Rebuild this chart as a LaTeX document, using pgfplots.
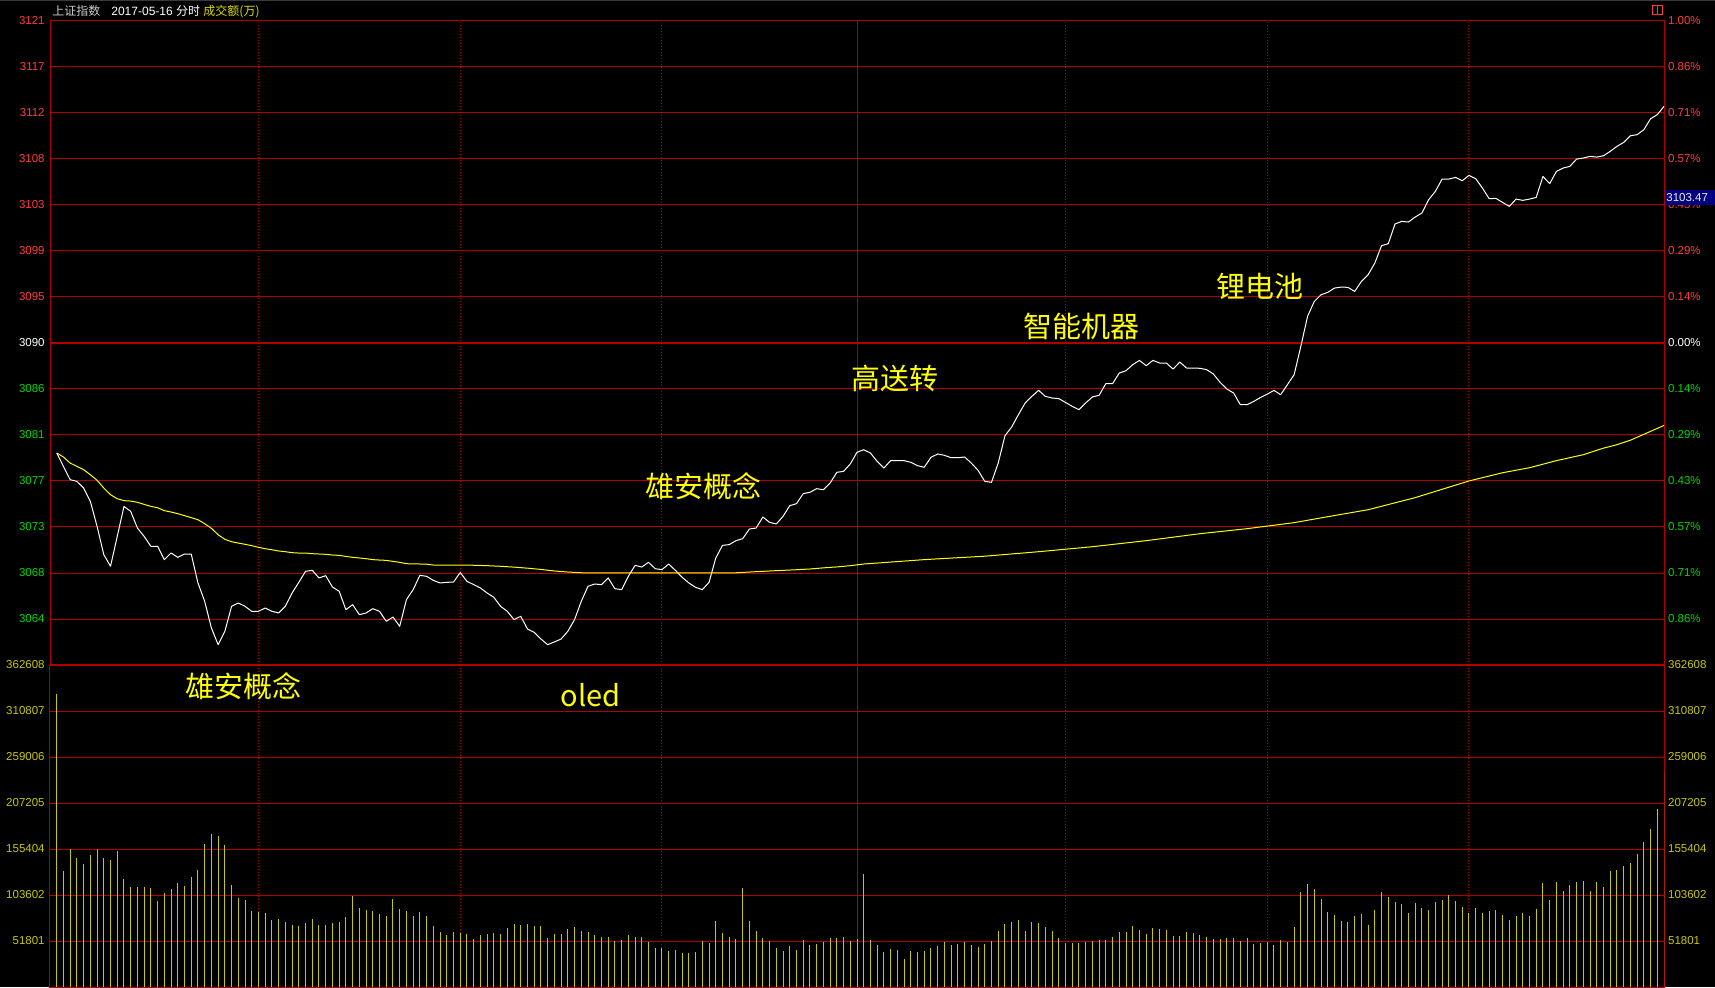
\documentclass[border=0pt]{standalone}
\usepackage{pgfplots}
\pgfplotsset{compat=1.18}
\usepackage{pgfplotstable}
\usepackage{fontspec}
\setmainfont{Liberation Sans}
\newfontfamily\cjk{Noto Sans CJK SC}
\definecolor{gridred}{RGB}{176,0,0}
\definecolor{upred}{RGB}{255,60,60}
\definecolor{dngreen}{RGB}{0,215,0}
\definecolor{volyel}{RGB}{200,200,0}
\definecolor{annyel}{RGB}{255,255,0}
\definecolor{boxblue}{RGB}{0,0,128}

\pgfplotstableread{
k p
1 3079.67
2 3078.39
3 3077.11
4 3076.95
5 3076.31
6 3075.03
7 3072.63
8 3069.92
9 3068.80
10 3071.67
11 3074.55
12 3074.07
13 3072.47
14 3071.67
15 3070.72
16 3070.72
17 3069.44
18 3070.08
19 3069.66
20 3069.98
21 3069.98
22 3067.20
23 3065.44
24 3062.88
25 3061.28
26 3062.56
27 3064.96
28 3065.28
29 3064.96
30 3064.48
31 3064.48
32 3064.80
33 3064.48
34 3064.32
35 3064.96
36 3066.24
37 3067.26
38 3068.32
39 3068.41
40 3067.68
41 3067.90
42 3066.81
43 3066.40
44 3064.64
45 3065.12
46 3064.16
47 3064.32
48 3064.73
49 3064.48
50 3063.52
51 3063.93
52 3063.04
53 3065.60
54 3066.56
55 3067.93
56 3067.84
57 3067.45
58 3067.20
59 3067.26
60 3067.29
61 3068.20
62 3067.36
63 3067.04
64 3066.72
65 3066.24
66 3065.82
67 3064.96
68 3064.48
69 3063.68
70 3064.00
71 3062.78
72 3062.46
73 3061.82
74 3061.28
75 3061.54
76 3061.82
77 3062.56
78 3063.68
79 3065.44
80 3066.88
81 3067.10
82 3067.04
83 3067.68
84 3066.65
85 3066.56
86 3067.84
87 3068.89
88 3068.73
89 3069.18
90 3068.57
91 3068.48
92 3069.02
93 3068.41
94 3067.74
95 3067.20
96 3066.78
97 3066.56
98 3067.26
99 3069.60
100 3070.81
101 3070.88
102 3071.26
103 3071.45
104 3072.38
105 3072.47
106 3073.53
107 3073.02
108 3072.86
109 3073.59
110 3074.62
111 3074.81
112 3075.77
113 3075.90
114 3076.25
115 3076.15
116 3076.79
117 3077.82
118 3077.91
119 3078.62
120 3079.74
121 3079.99
122 3079.67
123 3078.87
124 3078.23
125 3078.94
126 3078.94
127 3078.94
128 3078.78
129 3078.46
130 3078.30
131 3079.26
132 3079.58
133 3079.45
134 3079.22
135 3079.22
136 3079.29
137 3078.71
138 3078.01
139 3076.95
140 3076.86
141 3078.71
142 3081.33
143 3082.17
144 3083.35
145 3084.47
146 3085.11
147 3085.69
148 3085.11
149 3084.95
150 3084.89
151 3084.53
152 3084.15
153 3083.83
154 3084.47
155 3085.05
156 3085.21
157 3086.33
158 3086.33
159 3087.35
160 3087.57
161 3088.15
162 3088.56
163 3088.05
164 3088.56
165 3088.31
166 3088.31
167 3087.73
168 3088.40
169 3087.83
170 3087.83
171 3087.80
172 3087.67
173 3087.25
174 3086.45
175 3085.81
176 3085.43
177 3084.31
178 3084.31
179 3084.63
180 3085.00
181 3085.32
182 3085.68
183 3085.27
184 3086.23
185 3087.19
186 3089.91
187 3092.79
188 3094.22
189 3094.86
190 3095.09
191 3095.50
192 3095.60
193 3095.57
194 3095.18
195 3096.14
196 3096.78
197 3097.90
198 3099.57
199 3099.76
200 3101.65
201 3101.90
202 3101.84
203 3102.32
204 3102.70
205 3103.98
206 3104.78
207 3105.96
208 3105.96
209 3106.12
210 3105.80
211 3106.32
212 3106.00
213 3105.10
214 3104.08
215 3104.11
216 3103.72
217 3103.34
218 3104.04
219 3103.92
220 3104.04
221 3104.20
222 3106.22
223 3105.52
224 3106.70
225 3107.02
226 3107.18
227 3107.88
228 3107.98
229 3108.14
230 3108.07
231 3108.20
232 3108.62
233 3109.10
234 3109.48
235 3110.12
236 3110.22
237 3110.70
238 3111.75
239 3112.14
240 3112.94
}\pricetab

\pgfplotstableread{
k p
1 3079.67
2 3079.29
3 3078.71
4 3078.39
5 3078.07
6 3077.59
7 3077.05
8 3076.31
9 3075.67
10 3075.29
11 3075.10
12 3075.06
13 3074.94
14 3074.74
15 3074.55
16 3074.42
17 3074.14
18 3074.01
19 3073.85
20 3073.66
21 3073.47
22 3073.27
23 3072.89
24 3072.44
25 3071.83
26 3071.39
27 3071.16
28 3071.03
29 3070.91
30 3070.78
31 3070.62
32 3070.49
33 3070.39
34 3070.27
35 3070.20
36 3070.11
37 3070.07
38 3070.07
39 3070.01
40 3069.98
41 3069.95
42 3069.88
43 3069.85
44 3069.75
45 3069.66
46 3069.60
47 3069.53
48 3069.44
49 3069.40
50 3069.37
51 3069.27
52 3069.18
53 3069.05
54 3069.03
55 3069.02
56 3069.00
57 3068.92
60 3068.92
63 3068.90
65 3068.86
67 3068.80
69 3068.72
71 3068.62
73 3068.50
75 3068.35
77 3068.25
79 3068.18
90 3068.17
102 3068.18
104 3068.25
107 3068.35
110 3068.44
113 3068.54
115 3068.65
117 3068.74
119 3068.86
121 3069.02
130 3069.44
139 3069.77
147 3070.20
155 3070.68
163 3071.26
171 3071.93
178 3072.41
185 3072.99
190 3073.56
196 3074.23
203 3075.39
211 3076.99
216 3077.78
220 3078.26
224 3078.94
228 3079.51
231 3080.14
233 3080.47
235 3080.90
238 3081.75
240 3082.32
}\avgtab

\pgfplotstableread{
k v
1 6.37
2 2.52
3 3.00
4 2.80
5 2.67
6 2.87
7 3.00
8 2.80
9 2.76
10 2.96
11 2.35
12 2.17
13 2.17
14 2.17
15 2.15
16 1.87
17 2.04
18 2.13
19 2.26
20 2.20
21 2.39
22 2.54
23 3.11
24 3.33
25 3.28
26 3.09
27 2.22
28 1.93
29 1.89
30 1.65
31 1.63
32 1.61
33 1.46
34 1.48
35 1.41
36 1.35
37 1.33
38 1.39
39 1.48
40 1.35
41 1.35
42 1.39
43 1.41
44 1.52
45 1.98
46 1.72
47 1.67
48 1.65
49 1.59
50 1.54
51 1.91
52 1.70
53 1.65
54 1.54
55 1.63
56 1.54
57 1.33
58 1.20
59 1.13
60 1.20
61 1.17
62 1.15
63 1.04
64 1.13
65 1.15
66 1.17
67 1.15
68 1.28
69 1.37
70 1.35
71 1.37
72 1.33
73 1.33
74 1.07
75 1.15
76 1.15
77 1.26
78 1.30
79 1.22
80 1.20
81 1.13
82 1.09
83 1.09
84 1.00
85 1.02
86 1.13
87 1.09
88 1.09
89 0.98
90 0.85
91 0.85
92 0.78
93 0.80
94 0.74
95 0.74
96 0.76
97 1.00
98 0.96
99 1.43
100 1.17
101 1.09
102 1.04
103 2.15
104 1.43
105 1.22
106 1.07
107 1.00
108 0.85
109 0.78
110 0.89
111 0.80
112 1.02
113 0.91
114 0.93
115 0.98
116 1.07
117 1.07
118 1.09
119 1.00
120 1.04
121 2.46
122 1.02
123 0.91
124 0.76
125 0.83
126 0.80
127 0.61
128 0.78
129 0.76
130 0.78
131 0.85
132 0.89
133 0.98
134 0.91
135 0.93
136 0.98
137 0.91
138 0.87
139 0.93
140 1.00
141 1.22
142 1.37
143 1.41
144 1.46
145 1.22
146 1.41
147 1.39
148 1.30
149 1.22
150 1.07
151 0.96
152 0.96
153 0.96
154 0.98
155 1.00
156 1.02
157 1.02
158 1.09
159 1.20
160 1.20
161 1.33
162 1.24
163 1.15
164 1.28
165 1.26
166 1.24
167 1.11
168 1.11
169 1.20
170 1.17
171 1.13
172 1.09
173 1.04
174 1.04
175 1.07
176 1.07
177 1.00
178 1.07
179 0.93
180 0.96
181 0.98
182 0.91
183 1.02
184 0.98
185 1.30
186 2.07
187 2.24
188 2.13
189 1.91
190 1.63
191 1.57
192 1.43
193 1.41
194 1.54
195 1.59
196 1.35
197 1.67
198 2.07
199 1.96
200 1.85
201 1.80
202 1.61
203 1.83
204 1.72
205 1.67
206 1.85
207 1.89
208 2.00
209 1.87
210 1.74
211 1.61
212 1.72
213 1.61
214 1.65
215 1.67
216 1.57
217 1.46
218 1.54
219 1.61
220 1.54
221 1.70
222 2.26
223 1.89
224 2.28
225 2.09
226 2.22
227 2.28
228 2.30
229 2.09
230 2.28
231 2.17
232 2.52
233 2.54
234 2.63
235 2.70
236 2.89
237 3.15
238 3.43
239 3.87
240 4.65
}\voltab

\pgfplotsset{
  base/.style={
    scale only axis, width=807pt, xmin=0, xmax=240,
    axis line style={gridred, line width=0.5pt},
    major tick length=0pt, tick style={draw=none},
    xtick={31,61,91,151,181,211}, xticklabels={},
    xmajorgrids,
    x grid style={gridred, line width=0.5pt, dash pattern=on 0.5pt off 1pt},
    ymajorgrids,
    y grid style={gridred, line width=0.5pt},
    tick label style={font=\fontsize{5.75}{6}\selectfont, inner sep=0pt},
    yticklabel style={anchor=east, xshift=-2.5pt},
  },
  rightlab/.style={
    scale only axis, width=807pt, xmin=0, xmax=240,
    axis line style={draw=none}, major tick length=0pt, tick style={draw=none},
    xtick=\empty, yticklabel pos=right,
    tick label style={font=\fontsize{5.75}{6}\selectfont, inner sep=0pt},
    yticklabel style={anchor=west, xshift=1.85pt},
  },
}

\begin{document}
\begin{tikzpicture}
\fill[black] (0,0) rectangle (857.5pt,493.5pt);
\draw[gray!45!black, line width=0.5pt] (0,493.25pt) -- (857.5pt,493.25pt);

% ---------- volume panel ----------
\begin{axis}[base, at={(25pt,0pt)}, anchor=south west, height=161pt,
  ymin=0, ymax=7, ytick={1,2,3,4,5,6,7},
  yticklabels={51801,103602,155404,207205,259006,310807,362608},
  yticklabel style={text=volyel}]
\draw[gridred, line width=0.5pt] (axis cs:120,0) -- (axis cs:120,7);
\draw[gridred, line width=1pt] (axis cs:0,7) -- (axis cs:240,7);
\addplot[ycomb, volyel, line width=0.5pt, no markers] table[x=k,y=v] {\voltab};
\end{axis}
\begin{axis}[rightlab, at={(25pt,0pt)}, anchor=south west, height=161pt,
  ymin=0, ymax=7, ytick={1,2,3,4,5,6,7},
  yticklabels={51801,103602,155404,207205,259006,310807,362608},
  yticklabel style={text=volyel}]
\end{axis}

% ---------- price panel ----------
\begin{axis}[base, at={(25pt,161pt)}, anchor=south west, height=322pt,
  ymin=3059.3277, ymax=3121.1323,
  ytick={3063.7423,3068.1569,3072.5715,3076.9861,3081.4007,3085.8154,3090.23,3094.6446,3099.0592,3103.4738,3107.8884,3112.3031,3116.7177,3121.1323},
  yticklabels={\textcolor{dngreen}{3064},\textcolor{dngreen}{3068},\textcolor{dngreen}{3073},\textcolor{dngreen}{3077},\textcolor{dngreen}{3081},\textcolor{dngreen}{3086},\textcolor{white}{3090},\textcolor{upred}{3095},\textcolor{upred}{3099},\textcolor{upred}{3103},\textcolor{upred}{3108},\textcolor{upred}{3112},\textcolor{upred}{3117},\textcolor{upred}{3121}}]
\draw[gridred, line width=0.5pt] (axis cs:120,3059.3277) -- (axis cs:120,3121.1323);
\draw[gridred, line width=1pt] (axis cs:0,3090.23) -- (axis cs:240,3090.23);
\draw[gridred, line width=1pt] (axis cs:0,3059.3277) -- (axis cs:240,3059.3277);
\addplot[annyel, line width=0.5pt, no markers] table[x=k,y=p] {\avgtab};
\addplot[white, line width=0.5pt, no markers, line join=round] table[x=k,y=p] {\pricetab};
\end{axis}
\begin{axis}[rightlab, at={(25pt,161pt)}, anchor=south west, height=322pt,
  ymin=3059.3277, ymax=3121.1323,
  ytick={3063.7423,3068.1569,3072.5715,3076.9861,3081.4007,3085.8154,3090.23,3094.6446,3099.0592,3103.4738,3107.8884,3112.3031,3116.7177,3121.1323},
  yticklabels={\textcolor{dngreen}{0.86\%},\textcolor{dngreen}{0.71\%},\textcolor{dngreen}{0.57\%},\textcolor{dngreen}{0.43\%},\textcolor{dngreen}{0.29\%},\textcolor{dngreen}{0.14\%},\textcolor{white}{0.00\%},\textcolor{upred}{0.14\%},\textcolor{upred}{0.29\%},\textcolor{upred}{0.43\%},\textcolor{upred}{0.57\%},\textcolor{upred}{0.71\%},\textcolor{upred}{0.86\%},\textcolor{upred}{1.00\%}}]
\end{axis}

% value box and icon
\fill[boxblue] (832.5pt,390.75pt) rectangle (857.5pt,398.25pt);
\node[anchor=west, inner sep=0pt, text=white!85!gray, font=\fontsize{5.75}{6}\selectfont] at (833pt,394.5pt) {3103.47};
\draw[upred, line width=0.5pt] (826pt,486pt) rectangle (831pt,490.5pt);
\draw[upred, line width=0.5pt] (828.5pt,486pt) -- (828.5pt,490.5pt);

% title
\node[anchor=west, inner sep=0pt, font=\fontsize{6}{7}\selectfont] at (26pt,487.5pt)
  {\textcolor[RGB]{200,200,200}{\cjk 上证指数}\hspace{5.5pt}\textcolor{white}{2017-05-16 {\cjk 分时}} \textcolor[RGB]{220,220,0}{\cjk 成交额(万)}};

% annotations
\begin{scope}[every node/.style={inner sep=0pt, text=annyel, font=\cjk\fontsize{14.5}{16}\selectfont}]
\node at (121.5pt,150.5pt) {雄安概念};
\node at (295.25pt,145.75pt) {oled};
\node at (351.5pt,250.5pt) {雄安概念};
\node at (447.5pt,304.5pt) {高送转};
\node at (540.5pt,330.5pt) {智能机器};
\node at (630pt,350.5pt) {锂电池};
\end{scope}

\pgfresetboundingbox
\useasboundingbox (0,0) rectangle (857.5pt,493.5pt);
\end{tikzpicture}
\end{document}
